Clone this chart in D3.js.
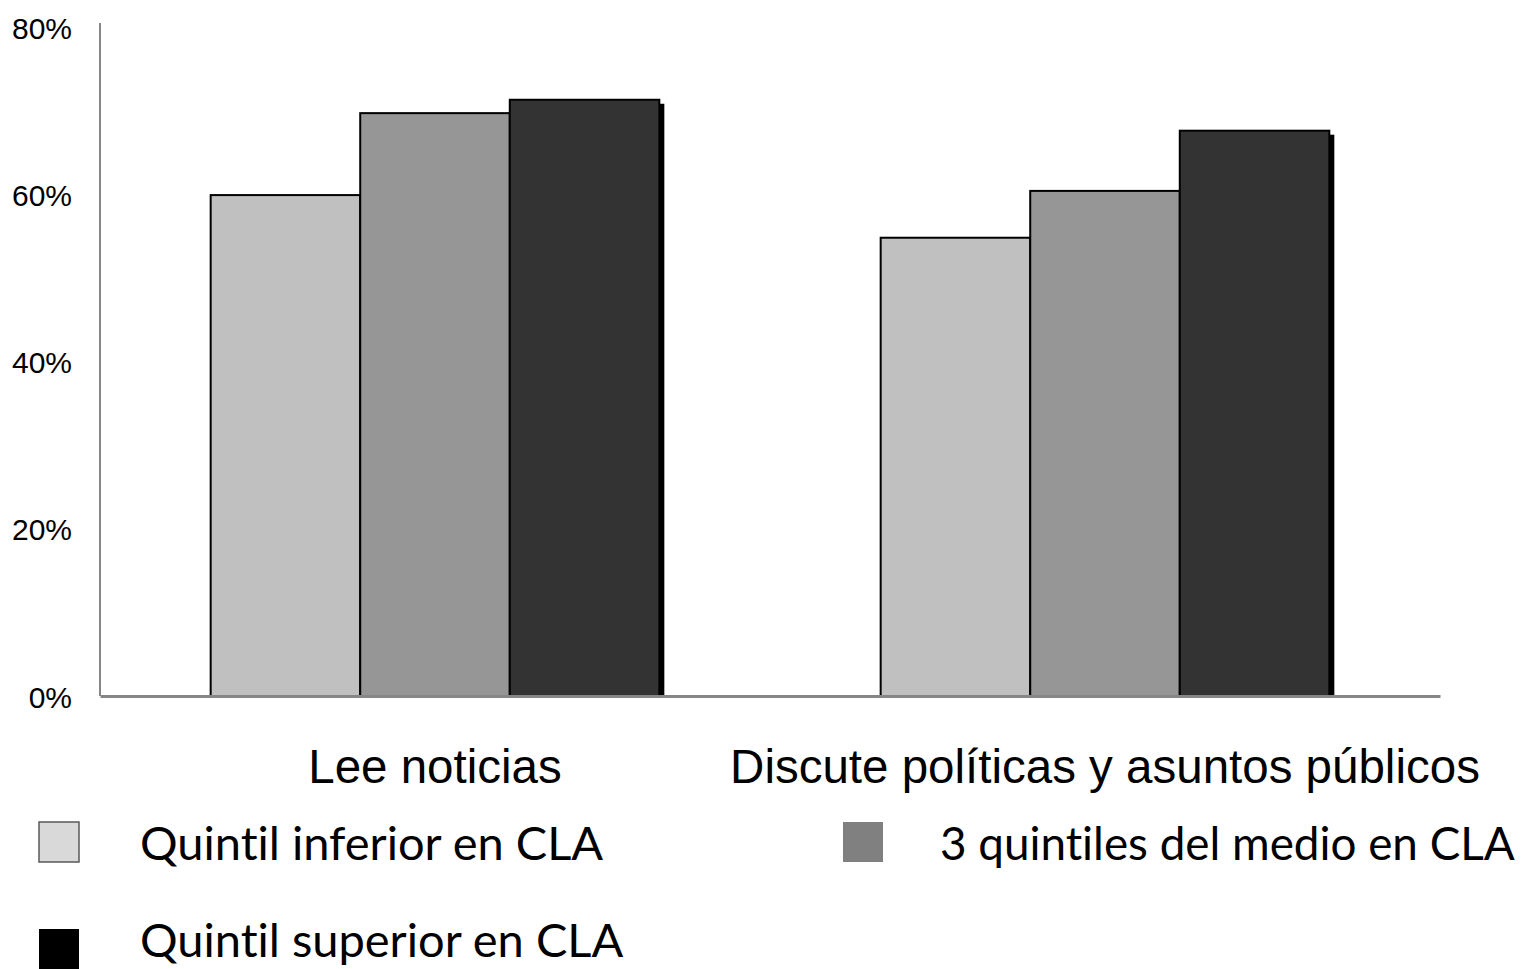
<!DOCTYPE html>
<meta charset="utf-8">
<html>
<script src="https://d3js.org/d3.v7.min.js"></script>
<style>
  body { margin: 0; background: #fff; }
  .legend text { font-variant-ligatures: none; }
</style>
<div id="chart"></div>
<script>

// data
var categories = ["Lee noticias", "Discute políticas y asuntos públicos"];
var series = ["Quintil inferior en CLA", "3 quintiles del medio en CLA", "Quintil superior en CLA"];
var inferior = [59.9, 54.8];
var medio = [69.7, 60.4];
var superior = [71.3, 67.6];
var ticks = [0, 20, 40, 60, 80];

var values = [inferior, medio, superior];
var barColor = ["#c0c0c0", "#969696", "#333333"];
var legendColor = ["#d9d9d9", "#808080", "#000000"];

var width = 1521,
    height = 969,
    plotLeft = 100,
    plotRight = 1440,
    plotTop = 27,
    plotBottom = 696;

var svg = d3.select("#chart")
  .append("svg")
    .attr("width", width)
    .attr("height", height);

var x0 = d3.scaleBand()
  .domain(categories)
  .range([plotLeft, plotRight])
  .padding(0);

var x1 = d3.scaleBand()
  .domain(d3.range(series.length))
  .range([0, x0.bandwidth()])
  .paddingInner(0)
  .paddingOuter(0.74);

var y = d3.scaleLinear()
  .domain([0, 80])
  .range([plotBottom, plotTop]);

// flat list of bars
var bars = [];
categories.forEach(function(c, i) {
  values.forEach(function(v, s) {
    bars.push({cat: c, s: s, value: v[i]});
  });
});

// shadows first, so the next bar covers them
svg.append("g").selectAll("rect")
  .data(bars)
  .enter().append("rect")
    .attr("x", function(d) { return x0(d.cat) + x1(d.s) + 5; })
    .attr("y", function(d) { return y(d.value) + 4; })
    .attr("width", x1.bandwidth())
    .attr("height", function(d) { return plotBottom - y(d.value) - 4; })
    .attr("fill", "#000");

svg.append("g").selectAll("rect")
  .data(bars)
  .enter().append("rect")
    .attr("x", function(d) { return x0(d.cat) + x1(d.s); })
    .attr("y", function(d) { return y(d.value); })
    .attr("width", x1.bandwidth())
    .attr("height", function(d) { return plotBottom - y(d.value); })
    .attr("fill", function(d) { return barColor[d.s]; })
    .attr("stroke", "#000")
    .attr("stroke-width", 2);

// y axis
var yAxis = svg.append("g")
  .attr("transform", "translate(" + plotLeft + ",0)")
  .call(d3.axisLeft(y).tickValues(ticks).tickSize(0).tickPadding(28)
    .tickFormat(function(d) { return d + "%"; }));
yAxis.select(".domain").attr("stroke", "#868686").attr("stroke-width", 2)
  .attr("d", "M0," + (plotTop - 4) + "V" + plotBottom);
yAxis.selectAll("text")
  .attr("font-family", "Liberation Sans, Arial, sans-serif")
  .attr("font-size", 30)
  .attr("fill", "#000")
  .attr("dy", "0.37em");

// x axis
var xAxis = svg.append("g")
  .attr("transform", "translate(0," + plotBottom + ")")
  .call(d3.axisBottom(x0).tickSize(0).tickFormat(""));
xAxis.select(".domain").attr("stroke", "#868686").attr("stroke-width", 3);

svg.append("g").selectAll("text")
  .data(categories)
  .enter().append("text")
    .attr("x", function(d) { return x0(d) + x0.bandwidth() / 2; })
    .attr("y", 783)
    .attr("text-anchor", "middle")
    .attr("font-family", "Liberation Sans, Arial, sans-serif")
    .attr("font-size", 47.5)
    .attr("fill", "#000")
    .text(function(d) { return d; });

// legend
var legendPos = [[39, 822], [843, 822], [39, 929]];
var legend = svg.append("g").attr("class", "legend").selectAll("g")
  .data(series)
  .enter().append("g")
    .attr("transform", function(d, i) { return "translate(" + legendPos[i][0] + "," + legendPos[i][1] + ")"; });

legend.append("rect")
  .attr("width", 40)
  .attr("height", 40)
  .attr("fill", function(d, i) { return legendColor[i]; })
  .attr("stroke", function(d, i) { return i === 0 ? "#595959" : "none"; })
  .attr("stroke-width", 1.5);

legend.append("text")
  .attr("x", function(d, i) { return i === 1 ? 97 : 101; })
  // keep descenders of the bottom row inside the page
  .attr("y", function(d, i) { return Math.min(38, height - 12 - legendPos[i][1]); })
  .attr("font-family", "Lato, sans-serif")
  .attr("font-size", 47)
  .attr("fill", "#000")
  .text(function(d) { return d; })
  .each(function(d, i) {
    // shrink a label that would run past the right edge
    var room = width - 6 - legendPos[i][0] - (i === 1 ? 97 : 101);
    var w = this.getComputedTextLength();
    if (w > room) d3.select(this).attr("font-size", 47 * room / w);
  });

</script>
</html>
